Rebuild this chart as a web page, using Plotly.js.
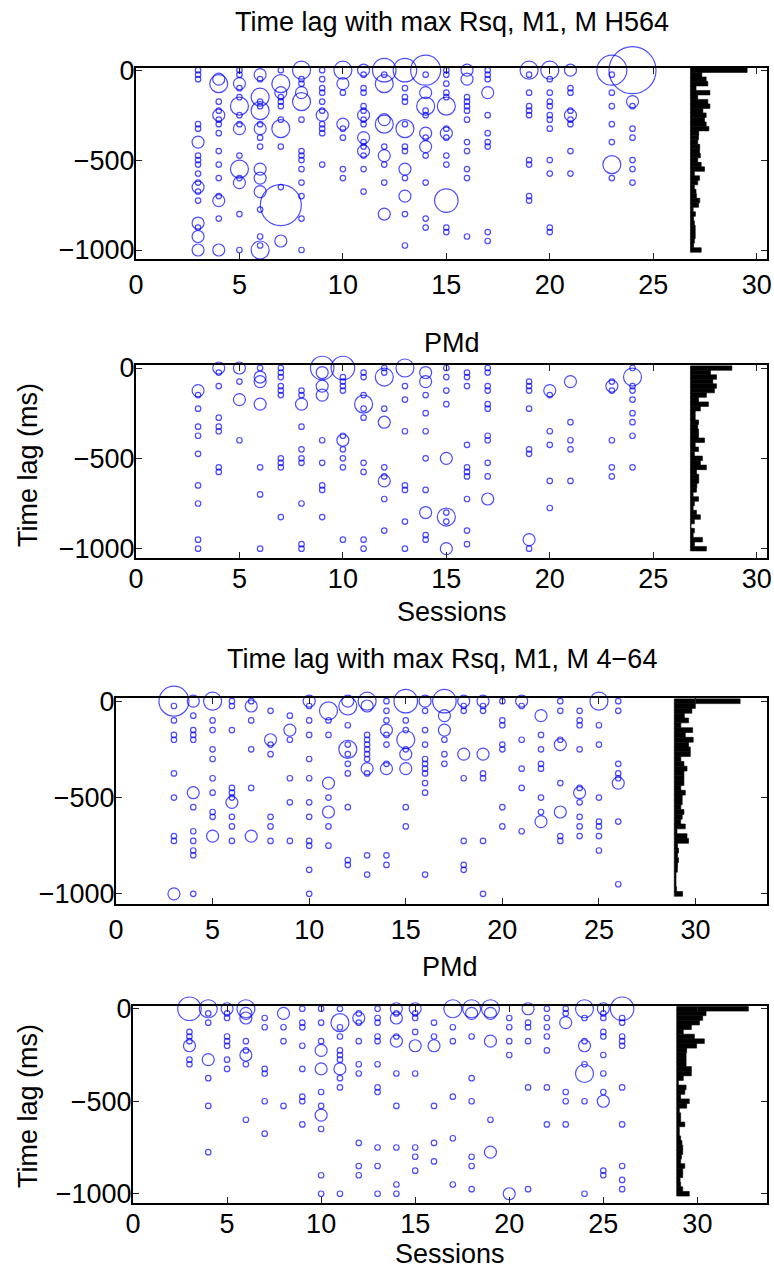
<!DOCTYPE html>
<html><head><meta charset="utf-8">
<script src="https://cdn.plot.ly/plotly-3.0.1.min.js"></script>
<style>html,body{margin:0;padding:0;background:#fff}#chart{width:774px;height:1268px}</style>
</head><body><div id="chart"></div><script>
// ---------- DATA ----------
// Panel 1: M1, monkey H564
const p1Sessions = [3,4,5,6,7,8,9,10,11,12,13,14,15,16,17,19,20,21,23,24];
const p1Lags = [
 [0,-25,-50,-300,-325,-400,-475,-500,-525,-575,-625,-650,-675,-725,-850,-875,-925,-1000],
 [-50,-75,-175,-225,-250,-275,-300,-350,-450,-525,-600,-700,-725,-825,-1000],
 [0,-25,-75,-100,-150,-200,-250,-300,-325,-475,-550,-600,-625,-800,-1000],
 [-25,-50,-150,-175,-200,-225,-300,-325,-375,-425,-550,-600,-675,-775,-925,-975,-1000],
 [0,-75,-125,-150,-175,-200,-275,-325,-425,-650,-750,-950],
 [0,-50,-75,-125,-175,-275,-450,-475,-500,-550,-625,-700,-825,-1000],
 [0,-50,-100,-125,-175,-225,-250,-300,-325,-350,-525],
 [0,-75,-125,-300,-325,-375,-550,-600],
 [0,-25,-100,-125,-200,-225,-250,-275,-300,-375,-400,-425,-450,-475,-550,-675],
 [0,-25,-75,-275,-300,-425,-475,-525,-625,-800],
 [0,-100,-150,-175,-300,-325,-425,-450,-550,-600,-700,-800,-975],
 [0,-25,-125,-200,-225,-250,-350,-375,-425,-475,-625,-825,-875],
 [0,-25,-75,-125,-150,-200,-325,-350,-375,-475,-525,-725,-875,-900],
 [0,-50,-150,-175,-200,-225,-275,-400,-450,-550,-600,-925],
 [0,-25,-50,-125,-250,-350,-400,-425,-900,-950],
 [0,-25,-125,-200,-225,-250,-500,-525,-700,-725],
 [0,-50,-125,-175,-200,-250,-275,-325,-500,-575,-875,-900],
 [0,-100,-125,-225,-250,-275,-300,-450,-575],
 [0,-25,-125,-200,-300,-400,-525,-600],
 [0,-175,-200,-325,-375,-500,-550,-625]
];
const p1Rsq = [
 [1,1,1,1,1,2,1,1,1,1,1,2,1,1,2,1,2,2],
 [2,3,1,1,2,1,1,1,1,1,1,1,2,1,2],
 [1,1,2,1,1,3,1,1,2,1,3,1,2,1,1],
 [2,1,3,1,1,3,1,2,1,1,2,2,2,1,1,1,3],
 [1,3,2,1,1,1,1,3,1,1,6,2],
 [3,1,1,2,3,1,1,1,1,1,1,1,1,1],
 [1,1,1,1,1,1,2,1,1,1,1],
 [3,2,1,2,1,1,1,1],
 [2,1,1,1,1,1,2,1,1,2,1,1,2,1,1,1],
 [4,1,3,2,3,1,2,1,1,2],
 [4,1,1,1,1,3,1,1,2,1,2,1,1],
 [5,1,2,3,1,1,2,1,2,1,1,1,1],
 [1,1,1,1,1,3,1,2,1,1,1,4,1,1],
 [2,2,1,1,1,1,1,1,1,1,1,1],
 [1,1,1,2,1,1,1,1,1,1],
 [3,1,1,1,1,1,1,1,1,1],
 [3,1,1,1,1,1,1,1,1,1,1,1],
 [2,1,1,1,2,1,1,1,1],
 [5,1,1,1,1,1,3,1],
 [7,2,1,1,1,1,1,1]
];
// Panel 2: PMd, monkey H564
const p2Sessions = [3,4,5,6,7,8,9,10,11,12,13,14,15,16,17,19,20,21,23,24];
const p2Lags = [
 [-125,-150,-225,-325,-375,-475,-650,-750,-950,-1000],
 [0,-25,-100,-275,-325,-350,-550,-575],
 [0,-75,-175,-400],
 [0,-50,-75,-200,-550,-700,-1000],
 [0,-25,-50,-100,-125,-150,-500,-525,-550,-825],
 [-125,-150,-200,-325,-450,-500,-525,-750,-975,-1000],
 [0,-25,-100,-150,-400,-525,-650,-675,-825],
 [0,-50,-75,-100,-125,-375,-400,-450,-500,-550,-950],
 [-25,-50,-150,-200,-225,-275,-525,-575,-950,-1000],
 [0,-25,-50,-225,-300,-550,-600,-625,-725,-900],
 [0,-100,-175,-350,-650,-675,-850,-1000],
 [-25,-75,-150,-250,-350,-500,-675,-800,-925,-950],
 [0,-50,-125,-200,-500,-800,-825,-850,-1000],
 [-25,-50,-100,-425,-550,-575,-600,-725,-900,-975],
 [0,-25,-100,-125,-200,-225,-375,-400,-525,-600,-725],
 [-75,-100,-125,-225,-450,-475,-950,-1000],
 [-125,-150,-350,-425,-625,-775],
 [-75,-300,-400,-450,-625],
 [-75,-100,-125,-400,-550,-600],
 [0,-50,-100,-125,-175,-250,-300,-375,-550]
];
const p2Rsq = [
 [2,1,1,1,1,1,1,1,1,1],
 [2,1,1,1,1,1,1,1],
 [2,1,2,1],
 [1,2,2,2,1,1,1],
 [1,1,1,1,1,1,1,1,1,1],
 [1,1,2,1,1,1,1,1,1,1],
 [4,2,2,2,1,1,1,1,1],
 [4,1,1,1,1,1,2,1,1,1,1],
 [1,1,1,3,1,1,1,1,1,1],
 [1,1,3,1,2,1,1,2,1,1],
 [3,1,1,1,1,1,1,1],
 [2,2,1,1,1,1,1,2,1,1],
 [1,1,1,1,2,1,3,1,2],
 [1,1,1,1,1,1,1,1,1,1],
 [1,1,1,1,1,1,1,1,1,1,2],
 [1,1,1,1,1,1,2,1],
 [2,1,1,1,1,1],
 [2,1,1,1,1],
 [1,2,1,1,1,1],
 [1,3,1,1,1,1,1,1,1]
];
// Panel 3: M1, monkey 4-64
const p3Sessions = [3,4,5,6,7,8,9,10,11,12,13,14,15,16,17,18,19,20,21,22,23,24,25,26];
const p3Lags = [
 [0,-25,-100,-175,-200,-375,-500,-700,-725,-1000],
 [0,-75,-150,-175,-200,-475,-550,-675,-725,-775,-800,-1000],
 [0,-100,-150,-250,-300,-400,-475,-575,-600,-700],
 [0,-25,-150,-450,-475,-500,-525,-600,-650,-725],
 [0,-25,-100,-250,-450,-700],
 [-50,-200,-225,-275,-600,-650,-725],
 [-75,-150,-200,-400,-525,-725],
 [0,-25,-100,-175,-300,-400,-525,-600,-725,-750,-875,-1000],
 [-50,-100,-175,-425,-500,-575,-650,-750],
 [0,-25,-125,-225,-250,-275,-325,-375,-550,-825,-850],
 [0,-25,-175,-200,-225,-250,-275,-300,-350,-375,-800,-900],
 [0,-50,-100,-150,-175,-225,-325,-350,-800,-850],
 [0,-100,-150,-200,-250,-275,-350,-550,-650],
 [0,-50,-150,-225,-300,-325,-350,-375,-425,-475,-900],
 [0,-75,-150,-200,-275,-325],
 [0,-25,-50,-275,-400,-725,-850,-875],
 [0,-25,-50,-275,-375,-400,-725,-1000],
 [0,-100,-125,-225,-250,-550,-650],
 [0,-25,-200,-350,-450,-675],
 [-75,-175,-250,-325,-350,-500,-575,-625],
 [0,-50,-200,-225,-425,-575,-700,-725],
 [-50,-100,-125,-250,-450,-475,-525,-600,-650,-700],
 [0,-125,-225,-500,-625,-650,-700,-775],
 [0,-50,-325,-375,-400,-425,-625,-950]
];
const p3Rsq = [
 [5,1,1,1,1,1,1,1,1,2],
 [2,1,1,1,1,2,1,1,1,1,1,1],
 [3,1,1,1,1,1,1,1,1,2],
 [1,1,1,1,1,1,2,1,1,1],
 [1,2,1,1,1,2],
 [1,2,1,1,1,1,1],
 [1,2,1,1,1,1],
 [2,1,1,1,1,1,1,1,1,1,1,1],
 [3,1,1,2,1,2,1,1],
 [2,3,1,1,3,1,1,1,1,1,1],
 [3,2,1,1,1,1,1,1,2,1,1,1],
 [1,1,1,2,1,1,1,2,1,1],
 [4,1,1,3,1,2,2,1,1],
 [2,1,1,1,1,1,1,1,1,1,1],
 [4,2,2,1,1,1],
 [2,1,1,2,1,1,1,1],
 [2,1,1,2,1,1,1,1],
 [1,1,1,1,1,1,1],
 [2,1,1,1,1,1],
 [2,1,1,1,1,1,1,2],
 [1,1,1,2,1,2,1,1],
 [1,1,1,1,1,2,1,1,1,1],
 [3,1,1,1,1,1,1,1],
 [1,1,1,1,1,2,1,1]
];
// Panel 4: PMd, monkey 4-64
const p4Sessions = [3,4,5,6,7,8,9,10,11,12,13,14,15,16,17,18,19,20,21,22,23,24,25,26];
const p4Lags = [
 [0,-125,-150,-175,-200,-275,-300],
 [0,-25,-75,-275,-375,-525,-775],
 [0,-25,-50,-150,-175,-200,-275,-325],
 [0,-25,-50,-175,-225,-250,-300,-600],
 [-50,-100,-325,-350,-500,-675],
 [-25,-100,-175,-525],
 [0,-75,-100,-200,-325,-475,-500,-625],
 [0,-75,-175,-225,-325,-450,-525,-575,-650,-900,-1000],
 [0,-75,-100,-150,-225,-250,-275,-325,-375,-425,-1000],
 [-25,-50,-75,-175,-300,-350,-725,-850,-900],
 [0,-50,-75,-150,-175,-300,-425,-450,-750,-850,-1000],
 [0,-25,-50,-150,-175,-350,-525,-750,-950,-1000],
 [0,-25,-50,-125,-200,-350,-750,-800,-875],
 [-75,-150,-200,-525,-725,-825],
 [0,-100,-175,-475,-700,-950],
 [0,-25,-150,-375,-500,-800,-850,-975],
 [0,-25,-175,-600,-775],
 [-50,-100,-175,-250,-1000],
 [0,-75,-100,-175,-425,-975],
 [0,-50,-100,-150,-225,-425,-625],
 [0,-25,-75,-450,-500,-625],
 [0,-50,-175,-200,-300,-350,-500,-1000],
 [0,-25,-50,-125,-150,-250,-350,-450,-500,-875,-900],
 [0,-50,-75,-150,-175,-200,-425,-625,-850,-925,-975]
];
const p4Rsq = [
 [4,1,1,1,2,1,1],
 [3,1,1,2,1,1,1],
 [2,1,1,1,1,1,1,1],
 [3,2,2,1,1,2,1,1],
 [1,1,1,1,1,1],
 [2,1,1,1],
 [1,1,1,1,1,1,1,1],
 [1,1,1,2,2,1,1,2,1,1,1],
 [1,3,1,1,1,1,1,2,1,1,1],
 [1,2,1,1,1,1,1,1,1],
 [1,1,1,1,1,1,1,1,1,1,1],
 [2,1,2,1,2,1,1,1,1,1],
 [2,1,1,1,2,1,1,1,1],
 [1,1,2,1,1,1],
 [3,1,1,1,1,1],
 [3,2,1,1,1,1,1,1],
 [3,2,2,1,2],
 [1,1,1,1,2],
 [2,1,1,1,1,1],
 [1,1,1,1,1,1,1],
 [1,1,2,1,1,1],
 [3,1,1,2,1,3,1,1],
 [2,1,1,1,1,1,1,1,2,1,1],
 [4,1,1,1,1,1,1,1,1,1,1]
];
// Histogram of lags (bin centres, ms) and bar lengths (in session-axis units)
const lagBins = [0,-25,-50,-75,-100,-125,-150,-175,-200,-225,-250,-275,-300,-325,-350,-375,-400,-425,-450,-475,-500,-525,-550,-575,-600,-625,-650,-675,-700,-725,-750,-775,-800,-825,-850,-875,-900,-925,-950,-975,-1000];
const p1Hist = [2.74,0.55,0.76,0.84,0.27,0.94,0.35,0.84,0.94,0.60,0.76,0.68,0.76,0.89,0.40,0.39,0.35,0.45,0.44,0.48,0.35,0.52,0.68,0.19,0.44,0.35,0.19,0.27,0.29,0.45,0.39,0.13,0.24,0.15,0.19,0.23,0.23,0.23,0.19,0.15,0.52];
const p2Hist = [2.00,0.97,1.26,1.08,1.26,1.16,0.77,0.39,0.87,0.48,0.23,0.23,0.39,0.35,0.39,0.39,0.68,0.23,0.39,0.19,0.58,0.48,0.77,0.29,0.40,0.40,0.31,0.29,0.13,0.39,0.19,0.13,0.29,0.48,0.19,0.03,0.19,0.13,0.58,0.19,0.77];
const p3Hist = [3.41,1.09,0.91,0.52,0.74,0.34,0.95,0.57,0.98,0.74,0.83,0.83,0.34,0.50,0.66,0.50,0.50,0.50,0.34,0.57,0.41,0.41,0.34,0.50,0.41,0.33,0.57,0.14,0.66,0.74,0.17,0.22,0.17,0.22,0.17,0.16,0.09,0.09,0.09,0.12,0.43];
const p4Hist = [3.81,1.56,1.38,1.21,0.78,0.35,0.94,1.47,1.06,0.53,0.50,0.50,0.50,0.78,0.78,0.35,0.09,0.50,0.43,0.21,0.67,0.53,0.14,0.21,0.21,0.43,0.14,0.14,0.21,0.28,0.32,0.32,0.25,0.21,0.43,0.32,0.32,0.18,0.21,0.32,0.67];
const xTicks = [0,5,10,15,20,25,30];
const yTicks = [0,-500,-1000];
const titles = ['Time lag with max Rsq, M1, M H564','PMd','Time lag with max Rsq, M1, M 4\u221264','PMd'];
const xLabel = 'Sessions';
const yLabel = 'Time lag (ms)';

// ---------- STYLE / LAYOUT ----------
const W = 774, H = 1268;
const FONT = 'Liberation Sans, Arial, Helvetica, sans-serif';
const FS = 27;
const diam = [0,5.5,12,18,23.5,30,41,47];
// panel boxes in pixels: [left, right, top, bottom]
const boxes = [[136,767,67.5,259],[136,767,365.3,557.7],[116,767,698.3,903.5],[133,767,1006,1203]];
const xMax = [30.5,30.5,33.7,33.7];
const yRange = [-1050,15];
const histBase = [26.8,26.8,28.9,28.9];

const panels = [
  {s:p1Sessions,l:p1Lags,r:p1Rsq,h:p1Hist},
  {s:p2Sessions,l:p2Lags,r:p2Rsq,h:p2Hist},
  {s:p3Sessions,l:p3Lags,r:p3Rsq,h:p3Hist},
  {s:p4Sessions,l:p4Lags,r:p4Rsq,h:p4Hist}
];

const traces = [];
const layout = {
  width: W, height: H, margin:{l:0,r:0,t:0,b:0},
  paper_bgcolor:'#fff', plot_bgcolor:'#fff', showlegend:false,
  font:{family:FONT,size:FS,color:'#000'},
  annotations:[]
};
panels.forEach((p,i)=>{
  const n = i+1;
  const xa = n===1?'x':'x'+n, ya = n===1?'y':'y'+n;
  const xs=[],ys=[],sz=[];
  p.s.forEach((sess,j)=>{
    p.l[j].forEach((lag,k)=>{ xs.push(sess); ys.push(lag); sz.push(diam[p.r[j][k]]); });
  });
  traces.push({type:'bar',orientation:'h',y:lagBins,x:p.h,base:histBase[i],width:25,
    marker:{color:'#000',line:{color:'#000',width:0.6}},xaxis:xa,yaxis:ya,hoverinfo:'skip'});
  traces.push({type:'scatter',mode:'markers',x:xs,y:ys,xaxis:xa,yaxis:ya,cliponaxis:false,
    marker:{symbol:'circle-open',size:sz,color:'#0000ff',line:{width:1.2,color:'#0000ff'}},hoverinfo:'skip'});
  const b = boxes[i];
  const axCommon = {showline:true,linecolor:'#000',linewidth:2,mirror:'ticks',ticks:'inside',ticklen:6,
    tickwidth:1,tickcolor:'#222',showgrid:false,zeroline:false,
    tickfont:{family:FONT,size:FS,color:'#000'}};
  layout[n===1?'xaxis':'xaxis'+n] = Object.assign({},axCommon,{
    domain:[b[0]/W,b[1]/W], range:[0,xMax[i]], tickvals:xTicks, ticktext:xTicks.map(String),
    anchor:ya, ticklabelstandoff:(i===1||i===3)?-4:1});
  layout[n===1?'yaxis':'yaxis'+n] = Object.assign({},axCommon,{
    domain:[1-b[3]/H,1-b[2]/H], range:yRange, tickvals:yTicks, ticktext:yTicks.map(v=>v<0?'\u2212'+(-v):String(v)),
    anchor:xa, ticklabelstandoff:-6});
  const cx = (b[0]+b[1])/2/W;
  const titleY = [22,343,659,967][i];
  layout.annotations.push({text:titles[i],xref:'paper',yref:'paper',x:cx,y:1-titleY/H,
    xanchor:'center',yanchor:'middle',showarrow:false,font:{family:FONT,size:FS,color:'#000'}});
  if(i===1||i===3){
    const sy = [0,612,0,1254][i];
    layout.annotations.push({text:xLabel,xref:'paper',yref:'paper',x:cx,y:1-sy/H,
      xanchor:'center',yanchor:'middle',showarrow:false,font:{family:FONT,size:FS,color:'#000'}});
    const ly = [0,465,0,1106][i];
    layout.annotations.push({text:yLabel,xref:'paper',yref:'paper',x:28/W,y:1-ly/H,textangle:-90,
      xanchor:'center',yanchor:'middle',showarrow:false,font:{family:FONT,size:FS,color:'#000'}});
  }
});
Plotly.newPlot('chart',traces,layout,{displayModeBar:false,staticPlot:true});
</script></body></html>
